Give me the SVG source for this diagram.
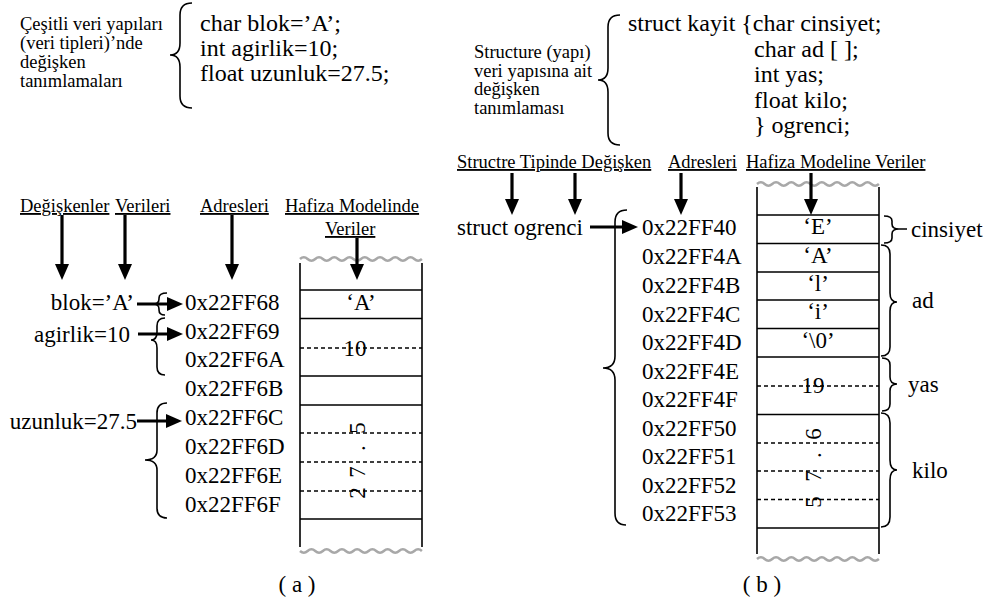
<svg xmlns="http://www.w3.org/2000/svg" width="999" height="606" viewBox="0 0 999 606">
<defs>
<style>
text{font-family:"Liberation Serif","Times New Roman",serif;fill:#000}
.d{font-size:18.5px}
.c{font-size:24px}
.a{font-size:23px}
.v{font-size:23px;text-anchor:middle}
.h{font-size:18.5px;text-decoration:underline}
.br{fill:none;stroke:#000;stroke-width:1.6}
.box{fill:none;stroke:#000;stroke-width:1.6}
.dot{fill:none;stroke:#000;stroke-width:1.6;stroke-dasharray:4 3}
.ar{stroke:#000;stroke-width:3.2;fill:none;marker-end:url(#ah)}
.wv{fill:none;stroke:#a8a8a8;stroke-width:2.5}
</style>
<marker id="ah" markerUnits="userSpaceOnUse" markerWidth="16" markerHeight="14" refX="6" refY="7" orient="auto"><path d="M0,0 L16,7 L0,14 Z" fill="#000"/></marker>
</defs>
<rect width="999" height="606" fill="#fff"/>

<g id="decl-a">
<text class="d" x="20" y="30">Çeşitli veri yapıları</text>
<text class="d" x="20" y="49">(veri tipleri)’nde</text>
<text class="d" x="20" y="68">değişken</text>
<text class="d" x="20" y="87">tanımlamaları</text>
<path class="br" d="M192 3 Q180 3 180 15 L180 43 Q180 55 170 55 Q180 55 180 67 L180 96 Q180 108 192 108"/>
<text class="c" x="200" y="31">char blok=’A’;</text>
<text class="c" x="200" y="56">int agirlik=10;</text>
<text class="c" x="200" y="81">float uzunluk=27.5;</text>
</g>

<g id="headers-a">
<text class="h" x="20" y="212">Değişkenler</text>
<text class="h" x="115" y="212">Verileri</text>
<text class="h" x="200" y="212">Adresleri</text>
<text class="h" x="285" y="212">Hafiza Modelinde</text>
<text class="h" x="325" y="235">Veriler</text>
</g>

<g id="vars-a">
<text class="a" x="134" y="310" text-anchor="end">blok=’A’</text>
<text class="a" x="130" y="342" text-anchor="end">agirlik=10</text>
<text class="a" x="137" y="429" text-anchor="end">uzunluk=27.5</text>
</g>

<g id="addr-a">
<text class="a" x="185" y="310">0x22FF68</text>
<text class="a" x="185" y="338.5">0x22FF69</text>
<text class="a" x="185" y="367">0x22FF6A</text>
<text class="a" x="185" y="396">0x22FF6B</text>
<text class="a" x="185" y="425">0x22FF6C</text>
<text class="a" x="185" y="454">0x22FF6D</text>
<text class="a" x="185" y="483">0x22FF6E</text>
<text class="a" x="185" y="511.5">0x22FF6F</text>
</g>

<g id="mem-a">
<path class="wv" d="M300 259 q3.81 -3.5 7.62 0 t7.62 0 t7.62 0 t7.62 0 t7.62 0 t7.62 0 t7.62 0 t7.62 0 t7.62 0 t7.62 0 t7.62 0 t7.62 0 t7.62 0 t7.62 0 t7.62 0 t7.62 0"/>
<path class="wv" d="M300 551 q3.81 3.5 7.62 0 t7.62 0 t7.62 0 t7.62 0 t7.62 0 t7.62 0 t7.62 0 t7.62 0 t7.62 0 t7.62 0 t7.62 0 t7.62 0 t7.62 0 t7.62 0 t7.62 0 t7.62 0"/>
<path class="box" d="M300 263 V547 M422 263 V547 M300 290 H422 M300 318.5 H422 M300 376 H422 M300 405 H422 M300 519 H422"/>
<path class="dot" d="M300 348 H422 M300 433 H422 M300 462 H422 M300 491 H422"/>
<text class="v" x="361" y="310">‘A’</text>
<text class="v" x="355" y="356">10</text>
<text class="v" transform="rotate(-90)" x="-493 -472 -448 -428" y="365">27.5</text>
</g>

<g id="decl-b">
<text class="d" x="474" y="58">Structure (yapı)</text>
<text class="d" x="474" y="76.5">veri yapısına ait</text>
<text class="d" x="474" y="95">değişken</text>
<text class="d" x="474" y="113.5">tanımlaması</text>
<path class="br" d="M620 15 Q608 15 608 27 L608 68 Q608 80 598 80 Q608 80 608 92 L608 133 Q608 145 620 145"/>
<text class="c" x="628" y="31">struct kayit {char cinsiyet;</text>
<text class="c" x="754" y="56.5">char ad [ ];</text>
<text class="c" x="754" y="82">int yas;</text>
<text class="c" x="754" y="107.5">float kilo;</text>
<text class="c" x="754" y="133">} ogrenci;</text>
</g>

<g id="headers-b">
<text class="h" x="457" y="168">Structre Tipinde Değişken</text>
<text class="h" x="668" y="168">Adresleri</text>
<text class="h" x="746" y="168">Hafiza Modeline Veriler</text>
</g>

<g id="var-b">
<text class="a" x="457" y="235">struct ogrenci</text>
</g>

<g id="addr-b">
<text class="a" x="642" y="235">0x22FF40</text>
<text class="a" x="642" y="264">0x22FF4A</text>
<text class="a" x="642" y="293">0x22FF4B</text>
<text class="a" x="642" y="321.5">0x22FF4C</text>
<text class="a" x="642" y="350">0x22FF4D</text>
<text class="a" x="642" y="378.5">0x22FF4E</text>
<text class="a" x="642" y="407">0x22FF4F</text>
<text class="a" x="642" y="435.5">0x22FF50</text>
<text class="a" x="642" y="464">0x22FF51</text>
<text class="a" x="642" y="492.5">0x22FF52</text>
<text class="a" x="642" y="521">0x22FF53</text>
</g>

<g id="mem-b">
<path class="wv" d="M757 184 q3.81 -3.5 7.62 0 t7.62 0 t7.62 0 t7.62 0 t7.62 0 t7.62 0 t7.62 0 t7.62 0 t7.62 0 t7.62 0 t7.62 0 t7.62 0 t7.62 0 t7.62 0 t7.62 0 t7.62 0"/>
<path class="wv" d="M757 559 q3.81 -3.5 7.62 0 t7.62 0 t7.62 0 t7.62 0 t7.62 0 t7.62 0 t7.62 0 t7.62 0 t7.62 0 t7.62 0 t7.62 0 t7.62 0 t7.62 0 t7.62 0 t7.62 0 t7.62 0"/>
<path class="box" d="M757 187 V554 M879 187 V554 M757 215 H879 M757 243.5 H879 M757 272 H879 M757 300 H879 M757 328.5 H879 M757 357 H879 M757 414.5 H879 M757 528 H879"/>
<path class="dot" d="M757 386 H879 M757 443 H879 M757 471 H879 M757 499.5 H879"/>
<text class="v" x="818" y="234">‘E’</text>
<text class="v" x="818" y="262.5">‘A’</text>
<text class="v" x="818" y="291">‘l’</text>
<text class="v" x="818" y="319">‘i’</text>
<text class="v" x="818" y="347.5">‘\0’</text>
<text class="v" x="813" y="393">19</text>
<text class="v" transform="rotate(-90)" x="-502 -476 -455 -434" y="821">57.6</text>
</g>

<g id="fields-b">
<path class="br" d="M884 216 Q892 216 892 221 L892 224 Q892 229 899 229 H907 M899 229 Q892 229 892 234 L892 238 Q892 243 884 243"/>
<text class="a" x="911" y="237">cinsiyet</text>
<path class="br" d="M881 245 Q890 245 890 254 L890 293 Q890 302 897 302 Q890 302 890 311 L890 347 Q890 356 881 356"/>
<text class="a" x="912" y="308">ad</text>
<path class="br" d="M882 358 Q890 358 890 365 L890 377 Q890 384 897 384 Q890 384 890 391 L890 404 Q890 411 882 411"/>
<text class="a" x="908" y="392">yas</text>
<path class="br" d="M881 413 Q890 413 890 423 L890 460 Q890 470 897 470 Q890 470 890 480 L890 517 Q890 527 881 527"/>
<text class="a" x="912" y="478">kilo</text>
</g>

<g id="braces-a">
<path class="br" d="M167 293 Q159 293 159 298 L159 299 Q159 304 153 304 Q159 304 159 309 L159 310 Q159 315 165 315"/>
<path class="br" d="M165 318 Q157 318 157 326 L157 332 Q157 340 151 340 Q157 340 157 348 L157 367 Q157 375 165 375"/>
<path class="br" d="M167 403 Q157 403 157 413 L157 450 Q157 460 145 460 Q157 460 157 470 L157 508 Q157 518 167 518"/>
<path class="br" d="M627 210 Q615 210 615 222 L615 356 Q615 368 603 368 Q615 368 615 380 L615 513 Q615 525 626 525"/>
</g>

<g id="connectors">
<line class="ar" x1="62" y1="215" x2="62" y2="270"/>
<line class="ar" x1="125" y1="215" x2="125" y2="270"/>
<line class="ar" x1="232" y1="215" x2="232" y2="270"/>
<line class="ar" x1="357" y1="238" x2="357" y2="270"/>
<line class="ar" x1="137" y1="304" x2="173" y2="304"/>
<line class="ar" x1="138" y1="334" x2="173" y2="334"/>
<line class="ar" x1="137" y1="421" x2="172" y2="421"/>
<line class="ar" x1="512" y1="173" x2="512" y2="205"/>
<line class="ar" x1="575" y1="173" x2="575" y2="205"/>
<line class="ar" x1="681" y1="173" x2="681" y2="205"/>
<line class="ar" x1="811" y1="173" x2="811" y2="205"/>
<line class="ar" x1="590" y1="227" x2="628" y2="227"/>
</g>

<g id="captions">
<text class="a" x="297" y="592" text-anchor="middle">( a )</text>
<text class="a" x="762" y="592" text-anchor="middle">( b )</text>
</g>
</svg>
